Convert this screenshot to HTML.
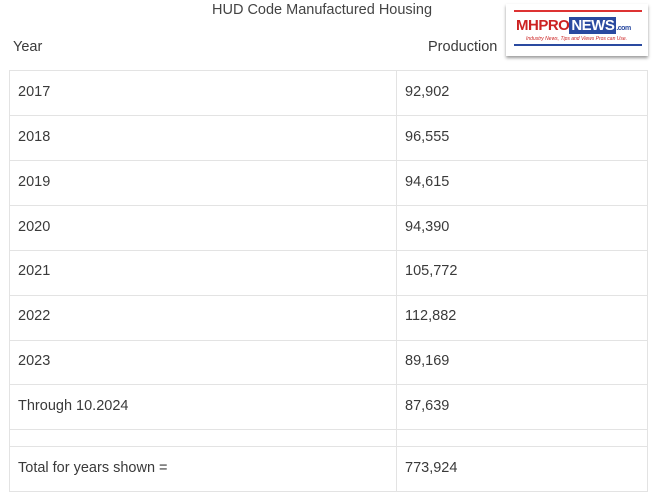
<!DOCTYPE html>
<html><head><style>
body{margin:0;width:661px;height:500px;background:#fff;font-family:"Liberation Sans",sans-serif;color:#3a3a3a;position:relative;overflow:hidden}
.t{position:absolute;font-size:14.5px;white-space:nowrap}
.h{position:absolute;background:#e3e3e3}
</style></head><body>
<div class="t" style="left:212px;top:2px;font-size:14.5px;color:#444">HUD Code Manufactured Housing</div>
<div class="t" style="left:13px;top:39px">Year</div>
<div class="t" style="left:428px;top:39px">Production</div>
<div style="position:absolute;left:506px;top:4px;width:142px;height:52px;background:#fff;box-shadow:0 2px 3px #999">
<div style="position:absolute;left:8px;top:6px;width:128px;height:2px;background:#d33"></div>
<div style="position:absolute;left:10px;top:13px;font:bold 15px 'Liberation Sans';color:#c22;letter-spacing:-0.5px">MH<span style="color:#c22">PRO</span><span style="background:#2a4aa0;color:#fff;padding:0 2px">NEWS</span><span style="font-size:7px;color:#2a4aa0">.com</span></div>
<div style="position:absolute;left:20px;top:32px;font:italic 5px 'Liberation Sans';color:#c22">Industry News, Tips and Views Pros can Use.</div>
<div style="position:absolute;left:8px;top:40px;width:128px;height:2px;background:#2a4aa0"></div>
</div>
<div style="position:absolute;left:9px;top:70px;width:637px;height:420px;border:1px solid #e3e3e3"></div>
<div class="h" style="left:396px;top:70px;width:1px;height:421px"></div>
<div class="h" style="left:9px;top:115px;width:638px;height:1px"></div>
<div class="h" style="left:9px;top:160px;width:638px;height:1px"></div>
<div class="h" style="left:9px;top:205px;width:638px;height:1px"></div>
<div class="h" style="left:9px;top:250px;width:638px;height:1px"></div>
<div class="h" style="left:9px;top:295px;width:638px;height:1px"></div>
<div class="h" style="left:9px;top:340px;width:638px;height:1px"></div>
<div class="h" style="left:9px;top:384px;width:638px;height:1px"></div>
<div class="h" style="left:9px;top:429px;width:638px;height:1px"></div>
<div class="h" style="left:9px;top:446px;width:638px;height:1px"></div>
<div class="t" style="left:18px;top:84px">2017</div><div class="t" style="left:405px;top:84px">92,902</div>
<div class="t" style="left:18px;top:129px">2018</div><div class="t" style="left:405px;top:129px">96,555</div>
<div class="t" style="left:18px;top:174px">2019</div><div class="t" style="left:405px;top:174px">94,615</div>
<div class="t" style="left:18px;top:219px">2020</div><div class="t" style="left:405px;top:219px">94,390</div>
<div class="t" style="left:18px;top:263px">2021</div><div class="t" style="left:405px;top:263px">105,772</div>
<div class="t" style="left:18px;top:308px">2022</div><div class="t" style="left:405px;top:308px">112,882</div>
<div class="t" style="left:18px;top:353px">2023</div><div class="t" style="left:405px;top:353px">89,169</div>
<div class="t" style="left:18px;top:398px">Through 10.2024</div><div class="t" style="left:405px;top:398px">87,639</div>
<div class="t" style="left:18px;top:460px">Total for years shown =</div><div class="t" style="left:405px;top:460px">773,924</div>
</body></html>
